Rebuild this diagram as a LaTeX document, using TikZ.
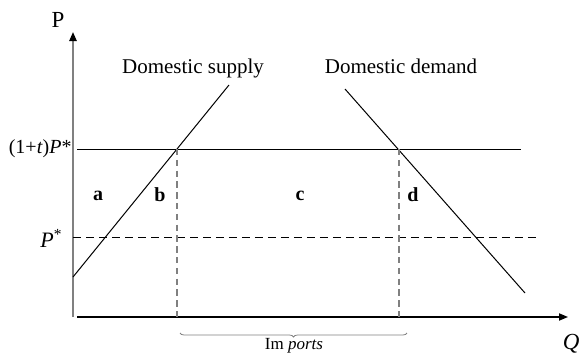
\documentclass[tikz,border=0pt]{standalone}
\usepackage{fontspec}
\setmainfont{Liberation Serif}
\usepackage{tikz}
\usetikzlibrary{arrows.meta,positioning,decorations.pathreplacing}
\definecolor{axisgray}{HTML}{808080}

\begin{document}
\begin{tikzpicture}[
    x=0.5pt, y=-0.5pt,
    axis/.style={-{Triangle[length=4.5pt,width=3.6pt,color=black]}},
    curve/.style={line width=0.5pt},
    price/.style={line width=0.5pt},
    guide/.style={axisgray, line width=0.8pt, dash pattern=on 3.2pt off 2.2pt},
    lbl/.style={font=\fontsize{10.5}{12.5}\selectfont, inner sep=0pt},
    tick/.style={font=\fontsize{10}{12}\selectfont, inner sep=0pt},
    area/.style={font=\fontsize{10}{12}\selectfont\bfseries, inner sep=0pt}
]
\useasboundingbox (0,0) rectangle (580,354);
\coordinate (O) at (73,317);
\coordinate (ytop) at (73,32);
\coordinate (xstart) at (77,317);
\coordinate (xend) at (568,317);
\coordinate (s0) at (73,277);
\coordinate (s1) at (229,85);
\coordinate (d0) at (345,89);
\coordinate (d1) at (525,293);
\coordinate (tl) at (77,149);
\coordinate (tr) at (521,149);
\coordinate (pl) at (73,237);
\coordinate (pr) at (538,237);
\coordinate (es) at (177,149);
\coordinate (ed) at (399,149);
\coordinate (es0) at (177,317);
\coordinate (ed0) at (399,317);

\draw[axis, axisgray, line width=1pt] (O) -- (ytop);
\draw[axis, line width=0.6pt] (xstart) -- (xend);
\node[lbl, font=\fontsize{11.5}{13}\selectfont] (plab) at (58,20) {P};
\node[lbl, font=\fontsize{11.5}{13}\selectfont, anchor=east] (qlab) at (580,344) {\textit{Q}};

\draw[price] (tl) -- (tr);
\draw[price, dashed, dash pattern=on 4pt off 2.5pt] (pl) -- (pr);
\node[tick, anchor=east] (tlab) at (72,149) {(1+\textit{t})\textit{P}*};
\node[tick, font=\fontsize{11}{13}\selectfont, anchor=east] (plab2) at (63,238) {\textit{P}\textsuperscript{*}};

\draw[curve] (s0) -- (s1);
\draw[curve] (d0) -- (d1);
\node[lbl, anchor=base] (supply) at (193,73) {Domestic supply};
\node[lbl, anchor=base] (demand) at (401,73) {Domestic demand};

\draw[guide] (es) -- (es0);
\draw[guide] (ed) -- (ed0);

\node[area] (a) at (98,196) {a};
\node[area] (b) at (160,195) {b};
\node[area] (c) at (300,196) {c};
\node[area] (d) at (413,195) {d};

\draw[decorate, decoration={brace, mirror, amplitude=2pt}, axisgray, line width=0.4pt]
    (180,333) -- (407,333);
\node[inner sep=0pt, font=\fontsize{8.5}{10}\selectfont] (imp) at (294,346) {Im \textit{ports}};
\end{tikzpicture}
\end{document}
